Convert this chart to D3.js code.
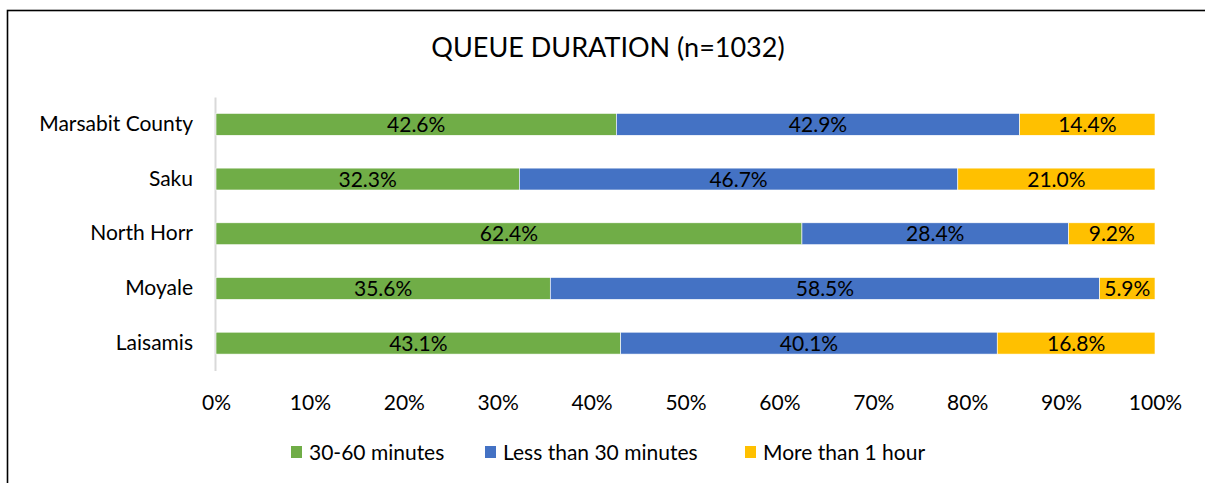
<!DOCTYPE html>
<html><head><meta charset="utf-8">
<script src="https://cdn.jsdelivr.net/npm/d3@7"></script>
<style>
html,body{margin:0;padding:0;background:#fff;}
svg{display:block;}
text{font-family:Lato, "Open Sans", sans-serif;fill:#000;}
</style></head>
<body>
<svg id="chart" width="1205" height="483"></svg>
<script>
const categories = ["Marsabit County","Saku","North Horr","Moyale","Laisamis"];
const seriesNames = ["30-60 minutes","Less than 30 minutes","More than 1 hour"];
const s3060 = [42.6, 32.3, 62.4, 35.6, 43.1];
const sLess30 = [42.9, 46.7, 28.4, 58.5, 40.1];
const sMore1h = [14.4, 21.0, 9.2, 5.9, 16.8];
const tickValues = [0,0.1,0.2,0.3,0.4,0.5,0.6,0.7,0.8,0.9,1];
const colors = ["#70AD47","#4472C4","#FFC000"];
const title = "QUEUE DURATION (n=1032)";

const svg = d3.select("#chart");
svg.append("rect").attr("x",7.5).attr("y",10.5).attr("width",1220).attr("height",500)
  .attr("fill","none").attr("stroke","#000").attr("stroke-width",1.6);

svg.append("text").attr("x",608).attr("y",57).attr("text-anchor","middle")
  .style("font-size","27px").text(title);

const rows = categories.map((c,i)=>({cat:c, a:s3060[i], b:sLess30[i], c3:sMore1h[i]}));
const stack = d3.stack().keys(["a","b","c3"]).offset(d3.stackOffsetExpand);
const layers = stack(rows);

const x = d3.scaleLinear().domain([0,1]).range([216,1155]);
const y = d3.scaleBand().domain(categories).range([97,370.5]).paddingInner(0.6).paddingOuter(0.3);

const yAxis = d3.axisLeft(y).tickSize(0).tickPadding(22);
const gy = svg.append("g").attr("transform","translate(215,0)").call(yAxis);
gy.select(".domain").attr("stroke","#d9d9d9").attr("stroke-width",2);
gy.selectAll("text").style("font-size","21px").attr("fill","#000");

const keys = ["a","b","c3"];
const valsByKey = {a:s3060,b:sLess30,c3:sMore1h};
layers.forEach((layer,li)=>{
  const g = svg.append("g");
  g.selectAll("rect").data(layer).join("rect")
    .attr("x",d=>x(d[0])).attr("width",d=>x(d[1])-x(d[0]))
    .attr("y",d=>y(d.data.cat)).attr("height",y.bandwidth())
    .attr("fill",colors[li]).attr("stroke","#fff").attr("stroke-width",0.6);
  g.selectAll("text").data(layer).join("text")
    .attr("x",d=>(x(d[0])+x(d[1]))/2).attr("y",d=>y(d.data.cat)+y.bandwidth()/2)
    .attr("dy","0.36em").attr("text-anchor","middle").style("font-size","21px")
    .text((d,i)=>valsByKey[keys[li]][i].toFixed(1)+"%");
});

const xAxis = d3.axisBottom(x).tickValues(tickValues).tickFormat(d3.format(".0%")).tickSize(0).tickPadding(0);
const gx = svg.append("g").attr("transform","translate(0,395)").call(xAxis);
gx.select(".domain").remove();
gx.selectAll("text").style("font-size","21px").attr("fill","#000").attr("dy","0.71em");

const legX = [291,485,745];
const leg = svg.append("g");
seriesNames.forEach((n,i)=>{
  leg.append("rect").attr("x",legX[i]).attr("y",446).attr("width",11).attr("height",12).attr("fill",colors[i]);
  leg.append("text").attr("x",legX[i]+18).attr("y",452).attr("dy","0.36em").style("font-size","21px").text(n);
});
</script>
</body></html>
